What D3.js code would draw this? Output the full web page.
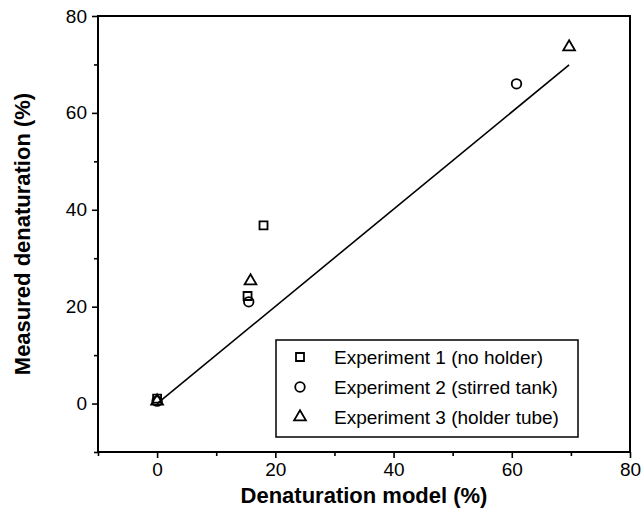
<!DOCTYPE html>
<html>
<head>
<meta charset="utf-8">
<script src="https://cdn.jsdelivr.net/npm/d3@7"></script>
<style>
  html, body { margin: 0; padding: 0; background: #fff; }
  svg { display: block; font-family: "Liberation Sans", Arial, sans-serif; }
</style>
</head>
<body>
<svg id="chart" width="643" height="514"></svg>
<script>
// Denaturation: model prediction vs. measured value, three experiments
const exp1Model = [0, 15.3, 18.0];
const exp1Measured = [1.0, 22.2, 36.8];
const exp2Model = [0, 15.5, 60.8];
const exp2Measured = [0.5, 21.0, 66.0];
const exp3Model = [0, 15.8, 69.7];
const exp3Measured = [0.5, 25.3, 73.6];
const fitModel = [0, 69.7];
const fitMeasured = [0, 69.9];
const seriesNames = ["Experiment 1 (no holder)", "Experiment 2 (stirred tank)", "Experiment 3 (holder tube)"];
const xTicks = [0, 20, 40, 60, 80];
const yTicks = [0, 20, 40, 60, 80];
const xMinorTicks = [-10, 10, 30, 50, 70];
const yMinorTicks = [-10, 10, 30, 50, 70];

const svg = d3.select("#chart");
const plotL = 98, plotR = 630, plotT = 16, plotB = 452;

const x = d3.scaleLinear().domain([-10, 80]).range([plotL, plotR]);
const y = d3.scaleLinear().domain([-10, 80]).range([plotB, plotT]);

// frame
svg.append("rect")
  .attr("x", plotL).attr("y", plotT)
  .attr("width", plotR - plotL).attr("height", plotB - plotT)
  .attr("fill", "none").attr("stroke", "#000").attr("stroke-width", 2);

// bottom axis
svg.append("g").attr("transform", `translate(0,${plotB})`)
  .call(d3.axisBottom(x).tickValues(xTicks).tickSize(6).tickPadding(5).tickFormat(d3.format("d")));
svg.append("g").attr("transform", `translate(0,${plotB})`)
  .call(d3.axisBottom(x).tickValues(xMinorTicks).tickSize(4).tickFormat(""));

// left axis
svg.append("g").attr("transform", `translate(${plotL},0)`)
  .call(d3.axisLeft(y).tickValues(yTicks).tickSize(6).tickPadding(5).tickFormat(d3.format("d")));
svg.append("g").attr("transform", `translate(${plotL},0)`)
  .call(d3.axisLeft(y).tickValues(yMinorTicks).tickSize(4).tickFormat(""));

svg.selectAll(".domain").remove();
svg.selectAll(".tick line").attr("stroke", "#000").attr("stroke-width", 1.6);
svg.selectAll(".tick text")
  .attr("fill", "#000")
  .style("font-size", "19px")
  .style("font-family", "'Liberation Sans', Arial, sans-serif");

// axis titles
svg.append("text")
  .attr("x", 364).attr("y", 503)
  .attr("text-anchor", "middle")
  .style("font-size", "22px").style("font-weight", "bold")
  .text("Denaturation model (%)");
svg.append("text")
  .attr("transform", `translate(30,${(plotT + plotB) / 2}) rotate(-90)`)
  .attr("text-anchor", "middle")
  .style("font-size", "22px").style("font-weight", "bold")
  .text("Measured denaturation (%)");

// fitted line
const line = d3.line().x(d => x(d[0])).y(d => y(d[1]));
svg.append("path")
  .datum(d3.zip(fitModel, fitMeasured))
  .attr("d", line)
  .attr("fill", "none").attr("stroke", "#000").attr("stroke-width", 1.6);

// marker shapes
const symSquare = d3.symbol().type(d3.symbolSquare).size(64);
const symCircle = d3.symbol().type(d3.symbolCircle).size(72);
const symTriangle = d3.symbol().type(d3.symbolTriangle).size(60);
const shapes = [symSquare, symCircle, symTriangle];

const series = [
  d3.zip(exp1Model, exp1Measured),
  d3.zip(exp2Model, exp2Measured),
  d3.zip(exp3Model, exp3Measured)
];

series.forEach((pts, i) => {
  svg.append("g").selectAll("path")
    .data(pts)
    .join("path")
    .attr("transform", d => `translate(${x(d[0])},${y(d[1])})`)
    .attr("d", shapes[i]())
    .attr("fill", "none").attr("stroke", "#000").attr("stroke-width", 1.8);
});

// legend
const lg = svg.append("g");
lg.append("rect")
  .attr("x", 276).attr("y", 340).attr("width", 302).attr("height", 97)
  .attr("fill", "#fff").attr("stroke", "#000").attr("stroke-width", 1.5);
seriesNames.forEach((name, i) => {
  const cy = 357 + i * 30;
  lg.append("path")
    .attr("transform", `translate(300,${cy})`)
    .attr("d", shapes[i]())
    .attr("fill", "none").attr("stroke", "#000").attr("stroke-width", 1.8);
  lg.append("text")
    .attr("x", 334).attr("y", cy + 7)
    .style("font-size", "19px")
    .text(name);
});
</script>
</body>
</html>
